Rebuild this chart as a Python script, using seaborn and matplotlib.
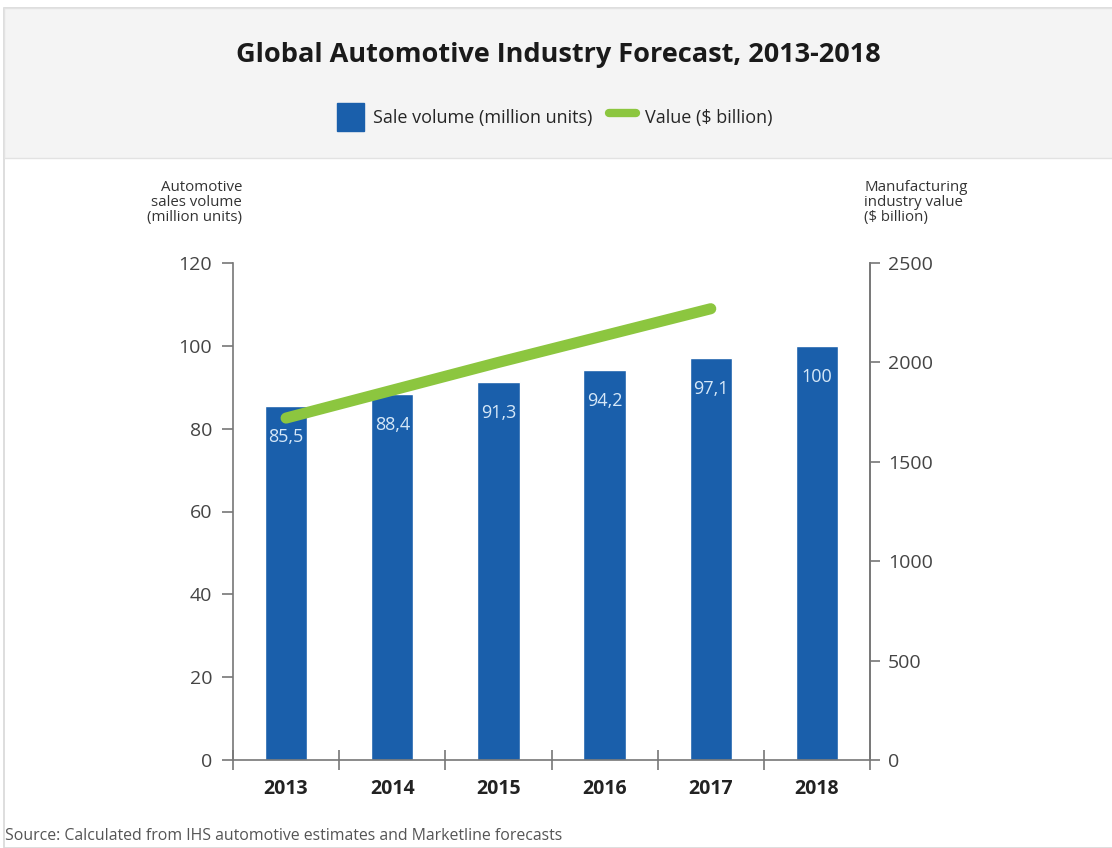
import matplotlib.pyplot as plt
import matplotlib.patches as mpatches
from matplotlib.lines import Line2D
import numpy as np
import pandas as pd
import seaborn as sns

years = ["2013", "2014", "2015", "2016", "2017", "2018"]
volume = [85.5, 88.4, 91.3, 94.2, 97.1, 100]
volume_labels = ["85,5", "88,4", "91,3", "94,2", "97,1", "100"]
value_years = ["2013", "2014", "2015", "2016", "2017"]
value = [1720, 1860, 2000, 2135, 2270]

blue = "#1a5fab"
green = "#8cc63f"
grey = "#444444"

sns.set_style("white")
plt.rcParams["font.family"] = ["Open Sans", "DejaVu Sans"]

fig = plt.figure(figsize=(11.12, 8.48), dpi=100)
fig.patch.set_facecolor("white")

# card border and header band (behind the axes)
fig.patches.append(mpatches.Rectangle((4 / 1112, 0), 1.1, 1 - 8 / 848, transform=fig.transFigure,
                                      facecolor="white", edgecolor="#d8d8d8", lw=1.2, zorder=-10))
fig.patches.append(mpatches.Rectangle((4 / 1112, 1 - 158 / 848), 1.1, 150 / 848, transform=fig.transFigure,
                                      facecolor="#f4f4f4", edgecolor="#e2e2e2", lw=1.0, zorder=-9))

ax = fig.add_axes([233 / 1112, 1 - 760 / 848, (870 - 233) / 1112, (760 - 263) / 848])
ax.patch.set_alpha(0)
df = pd.DataFrame({"year": years, "volume": volume})
sns.barplot(data=df, x="year", y="volume", color=blue, saturation=1, width=0.4, ax=ax, zorder=2)

for i, (v, lab) in enumerate(zip(volume, volume_labels)):
    ax.text(i, v - 7.5, lab, ha="center", va="center", color="#d6e8f8", fontsize=13)

ax.set_ylim(0, 120)
ax.set_xlim(-0.5, 5.5)
ax.set_yticks([0, 20, 40, 60, 80, 100, 120])
ax.set_xlabel("")
ax.set_ylabel("")
ax.set_xticks(np.arange(-0.5, 6, 1), minor=True)
ax.tick_params(axis="x", which="major", bottom=False, length=0, pad=14, labelsize=14, labelcolor="#222222")
ax.tick_params(axis="x", which="minor", bottom=True, length=14, direction="inout", color="#777777", width=1.2)
ax.tick_params(axis="y", left=True, length=8, direction="out", color="#777777", width=1.2,
               labelsize=14, labelcolor=grey, pad=7)
for t in ax.get_xticklabels():
    t.set_fontweight("bold")
for s in ["left", "bottom", "right"]:
    ax.spines[s].set_color("#777777")
    ax.spines[s].set_linewidth(1.2)
ax.spines["top"].set_visible(False)

ax2 = ax.twinx()
sns.lineplot(x=np.arange(len(value_years)), y=value, color=green, lw=8, ax=ax2,
             solid_capstyle="round", zorder=3)
ax2.set_ylim(0, 2500)
ax2.set_yticks([0, 500, 1000, 1500, 2000, 2500])
ax2.tick_params(axis="y", right=True, length=7, direction="out", color="#777777", width=1.2,
                labelsize=14, labelcolor=grey, pad=6)
for s in ["left", "bottom", "top"]:
    ax2.spines[s].set_visible(False)
ax2.spines["right"].set_color("#777777")
ax2.spines["right"].set_linewidth(1.2)
ax2.set_ylabel("")

fig.text(242 / 1112, 1 - 180 / 848, "Automotive\nsales volume\n(million units)", ha="right", va="top",
         fontsize=10.8, color="#333333", linespacing=1.0)
fig.text(864 / 1112, 1 - 180 / 848, "Manufacturing\nindustry value\n($ billion)", ha="left", va="top",
         fontsize=10.8, color="#333333", linespacing=1.0)

fig.text(558 / 1112, 1 - 55 / 848, "Global Automotive Industry Forecast, 2013-2018", ha="center", va="center",
         fontsize=19.5, fontweight="bold", color="#1a1a1a")

handles = [mpatches.Patch(facecolor=blue, edgecolor=blue),
           Line2D([0], [0], color=green, lw=6, solid_capstyle="round")]
fig.legend(handles, ["Sale volume (million units)", "Value ($ billion)"], loc="center",
           bbox_to_anchor=(555 / 1112, 1 - 117 / 848), ncol=2, frameon=False, fontsize=13,
           handlelength=1.5, handleheight=2.0, columnspacing=0.9, handletextpad=0.5)

fig.text(5 / 1112, 1 - 836 / 848, "Source: Calculated from IHS automotive estimates and Marketline forecasts",
         ha="left", va="center", fontsize=11.4, color="#555555")

plt.savefig("out.png", dpi=100)
